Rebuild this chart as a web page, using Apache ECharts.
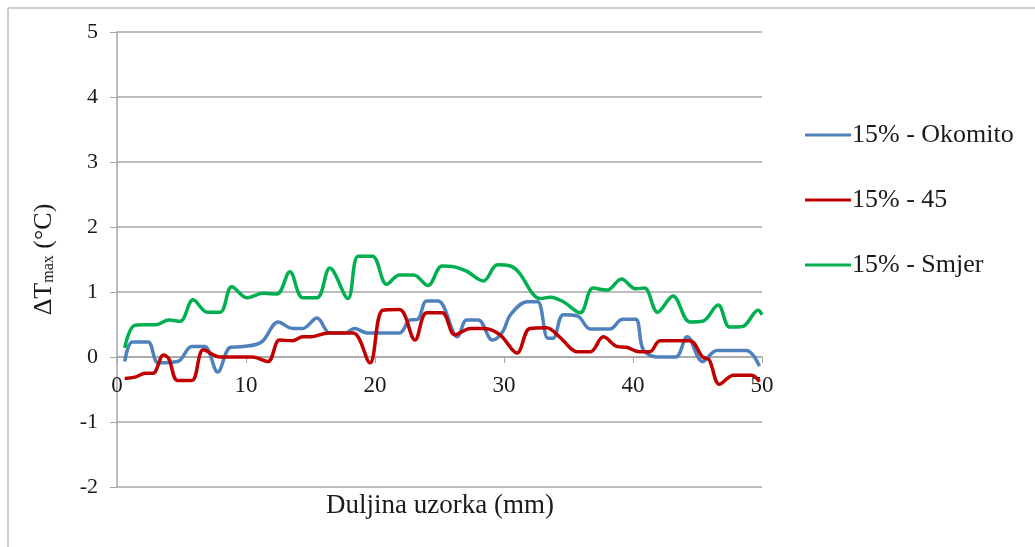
<!DOCTYPE html>
<html>
<head>
<meta charset="utf-8">
<script src="https://cdn.jsdelivr.net/npm/echarts@6/dist/echarts.min.js"></script>
<style>html,body{margin:0;padding:0;background:#fff}#c{width:1035px;height:547px}</style>
</head>
<body>
<div id="c"></div>
<script>
var seriesNames = ['15% - Okomito', '15% - 45', '15% - Smjer'];
var xTicks = [0, 10, 20, 30, 40, 50];
var yTicks = [-2, -1, 0, 1, 2, 3, 4, 5];

var okomito = [[0.6,-0.07],[1.2,0.23],[2.4,0.23],[3.2,-0.09],[4.7,-0.07],[5.8,0.16],[6.8,0.16],[7.8,-0.23],[8.8,0.15],[9.8,0.16],[11.2,0.23],[12.5,0.54],[13.6,0.44],[14.4,0.44],[15.5,0.6],[16.5,0.37],[17.7,0.37],[18.4,0.44],[19.4,0.37],[21.9,0.37],[22.7,0.57],[23.3,0.58],[24.0,0.86],[24.9,0.86],[26.4,0.31],[27.1,0.57],[28.0,0.57],[29.1,0.26],[29.9,0.39],[30.5,0.65],[31.8,0.85],[32.6,0.85],[33.4,0.29],[33.8,0.29],[34.6,0.65],[35.7,0.63],[36.7,0.43],[38.2,0.43],[39.2,0.58],[40.2,0.58],[40.8,0.11],[41.9,0.0],[43.3,0.0],[44.2,0.31],[45.4,-0.07],[46.5,0.1],[48.8,0.1],[49.8,-0.14]];
var deg45 = [[0.6,-0.33],[1.4,-0.31],[2.2,-0.25],[2.8,-0.25],[3.6,0.03],[4.0,-0.02],[4.7,-0.36],[5.8,-0.36],[6.7,0.11],[8.0,0.0],[10.5,0.0],[11.7,-0.07],[12.6,0.26],[13.6,0.25],[14.4,0.31],[15.0,0.31],[16.4,0.37],[18.3,0.37],[19.6,-0.09],[20.6,0.72],[21.9,0.73],[23.1,0.26],[24.0,0.68],[25.2,0.68],[26.2,0.34],[27.4,0.44],[28.5,0.44],[29.7,0.34],[31.0,0.06],[32.0,0.44],[33.3,0.45],[34.3,0.31],[35.7,0.08],[36.7,0.08],[37.7,0.31],[38.8,0.16],[39.5,0.15],[40.5,0.08],[41.3,0.08],[42.1,0.25],[44.4,0.25],[45.4,0.0],[45.9,-0.04],[46.7,-0.42],[47.8,-0.28],[49.2,-0.28],[49.8,-0.38]];
var smjer = [[0.6,0.14],[1.4,0.49],[3.1,0.5],[4.0,0.57],[4.9,0.55],[5.9,0.88],[7.0,0.69],[8.0,0.69],[8.9,1.08],[10.1,0.91],[11.3,0.98],[12.4,0.97],[13.4,1.31],[14.4,0.91],[15.5,0.91],[16.5,1.37],[17.9,0.9],[18.7,1.55],[19.8,1.55],[20.9,1.12],[21.9,1.26],[23.0,1.26],[24.1,1.1],[25.2,1.4],[26.1,1.39],[27.1,1.32],[28.4,1.17],[29.5,1.42],[30.5,1.4],[31.2,1.29],[32.2,0.98],[32.8,0.9],[33.6,0.92],[34.6,0.85],[35.9,0.68],[36.9,1.06],[38.0,1.03],[39.1,1.2],[40.2,1.05],[40.9,1.06],[41.9,0.69],[43.1,0.94],[44.4,0.54],[45.4,0.55],[46.6,0.8],[47.5,0.46],[48.5,0.47],[49.7,0.72],[50.0,0.65]];

var colors = ['#4F81BD', '#C00000', '#00B050'];
var font = '"Liberation Serif", "Times New Roman", serif';

var chart = echarts.init(document.getElementById('c'), null, {renderer: 'canvas'});
var mk = function (name, data, color) {
  return {
    name: name, type: 'line', data: data, smooth: 0.35, symbol: 'none',
    lineStyle: {color: color, width: 3.5}, itemStyle: {color: color}
  };
};
chart.setOption({
  animation: false,
  backgroundColor: '#fff',
  color: colors,
  grid: {left: 117, right: 273, top: 32, bottom: 60, containLabel: false},
  legend: {
    orient: 'vertical', left: 800, top: 117, itemWidth: 46, itemHeight: 14, itemGap: 39,
    textStyle: {fontFamily: font, fontSize: 26, color: '#1a1a1a', padding: [0, 0, 0, -4]},
    icon: 'path://M0,0 L46,0 L46,3 L0,3 Z',
    data: seriesNames
  },
  xAxis: {
    type: 'value', min: xTicks[0], max: xTicks[xTicks.length - 1], interval: 10,
    axisLine: {show: true, onZero: true, lineStyle: {color: '#a6a6a6', width: 1.5}},
    axisTick: {show: true, inside: false, length: 6, lineStyle: {color: '#a6a6a6'}},
    axisLabel: {fontFamily: font, fontSize: 23, color: '#1a1a1a', margin: -113},
    splitLine: {show: false}
  },
  yAxis: {
    type: 'value', min: yTicks[0], max: yTicks[yTicks.length - 1], interval: 1,
    name: '{a|ΔT}{s|max}{a| (°C)}', nameLocation: 'middle', nameGap: 60, nameRotate: 90,
    nameTextStyle: {
      rich: {
        a: {fontFamily: font, fontSize: 26, color: '#1a1a1a'},
        s: {fontFamily: font, fontSize: 16, color: '#1a1a1a', verticalAlign: 'bottom', padding: [10, 0, 0, 0]}
      }
    },
    axisLine: {show: true, onZero: false, lineStyle: {color: '#a6a6a6', width: 1.5}},
    axisTick: {show: true, length: 7, lineStyle: {color: '#a6a6a6'}},
    axisLabel: {fontFamily: font, fontSize: 22, color: '#1a1a1a', margin: 19},
    splitLine: {show: true, lineStyle: {color: '#a6a6a6', width: 1.5}}
  },
  graphic: [
    {type: 'line', shape: {x1: 8, y1: 8, x2: 1035, y2: 8}, style: {stroke: '#bfbfbf', lineWidth: 1.5}},
    {type: 'line', shape: {x1: 8, y1: 8, x2: 8, y2: 547}, style: {stroke: '#bfbfbf', lineWidth: 1.5}},
    {type: 'text', x: 440, y: 506, style: {text: 'Duljina uzorka (mm)', fontFamily: font, fontSize: 27, fill: '#1a1a1a', textAlign: 'center', textVerticalAlign: 'middle'}}
  ],
  series: [
    mk(seriesNames[0], okomito, colors[0]),
    mk(seriesNames[1], deg45, colors[1]),
    mk(seriesNames[2], smjer, colors[2])
  ]
});
</script>
</body>
</html>
